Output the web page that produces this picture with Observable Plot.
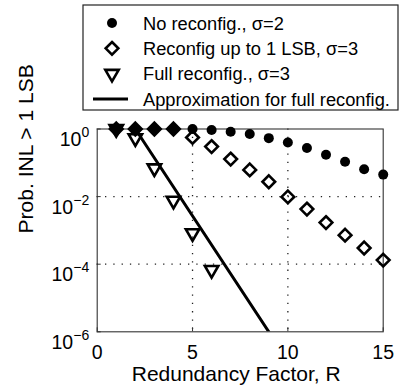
<!DOCTYPE html>
<html><head><meta charset="utf-8">
<script src="https://cdn.jsdelivr.net/npm/d3@7"></script>
<script src="https://cdn.jsdelivr.net/npm/@observablehq/plot@0.6"></script>
<style>
html,body{margin:0;padding:0;background:#fff;}
#chart{position:relative;width:400px;height:392px;}
svg{overflow:visible;}
</style></head><body><div id="chart"></div>
<script>
// ---- data ----
const R = [1,2,3,4,5,6,7,8,9,10,11,12,13,14,15];
const noReconfig   = [1,1,1,1,1,0.933,0.832,0.708,0.537,0.398,0.275,0.174,0.107,0.0646,0.0447];
const reconfig1LSB = [1,1,1,1,0.562,0.302,0.129,0.0617,0.0275,0.00977,0.00427,0.0017,0.000724,0.000302,0.000132];
const fullR = [1,2,3,4,5,6];
const fullReconfig = [1,0.537,0.069,0.0076,0.00083,0.000068];
const approxR = [2,9];
const approxFull = [1,1e-6];
const xTicks = [0,5,10,15];
const xTickLabels = ["0","5","10","15"];
const yTicks = [1e-6,1e-4,1e-2,1];
const yTickExps = ["\u22126","\u22124","\u22122","0"];
const xGrid = [5,10];
const yGrid = [1e-4,1e-2];
const xLabel = "Redundancy Factor, R";
const yLabel = "Prob. INL > 1 LSB";
const legendLabels = ["No reconfig., \u03c3=2","Reconfig up to 1 LSB, \u03c3=3","Full reconfig., \u03c3=3","Approximation for full reconfig."];

const circles = R.map((r,i)=>({R:r, p:noReconfig[i]}));
const diamonds = R.map((r,i)=>({R:r, p:reconfig1LSB[i]}));
const tris = fullR.map((r,i)=>({R:r, p:fullReconfig[i]}));
const approx = approxR.map((r,i)=>({R:r, p:approxFull[i]}));

const FONT = "'Liberation Sans', Arial, Helvetica, sans-serif";
const W = 400, H = 392;
const mL = 96.7, mR = 17.3, mT = 128.5, mB = 60.7;
const rC = 5, rD = 5.7, rT = 6.4, sw = 2.6;

const plot = Plot.plot({
  width: W, height: H,
  marginLeft: mL, marginRight: mR, marginTop: mT, marginBottom: mB,
  style: {fontFamily: FONT, fontSize: "19.5px", background: "white", color: "black", overflow: "visible"},
  x: {domain: [0,15], label: null},
  y: {type: "log", domain: [1e-6,1], label: null},
  marks: [
    Plot.ruleX(xGrid, {x: d=>d, stroke: "#222", strokeWidth: 1.3, strokeDasharray: "1.3,7"}),
    Plot.ruleY(yGrid, {y: d=>d, stroke: "#222", strokeWidth: 1.3, strokeDasharray: "1.3,7"}),
    Plot.frame({stroke: "#333", strokeWidth: 1.1}),
    Plot.axisX({ticks: xTicks, tickSize: -4, tickFormat: ()=>"", stroke:"#333"}),
    Plot.axisY({ticks: yTicks, tickSize: -4, tickFormat: ()=>"", stroke:"#333"}),
    Plot.axisX({ticks: xTicks, tickSize: 0, tickPadding: 13.7, tickFormat: d=>xTickLabels[xTicks.indexOf(d)], fontSize: 19.5}),
    Plot.axisY({ticks: yTicks, tickSize: 0, tickPadding: 8, tickFormat: d=>"10^" + yTickExps[yTicks.indexOf(d)], fontSize: 19.5}),
    Plot.line(approx, {x: "R", y: "p", stroke: "black", strokeWidth: 3, clip: true}),
    Plot.dot(circles, {x: "R", y: "p", symbol: "circle", r: rC, fill: "black", stroke: "none"}),
    Plot.dot(diamonds, {x: "R", y: "p", symbol: "diamond2", r: rD, fill: "none", stroke: "black", strokeWidth: sw}),
    Plot.dot(tris, {x: "R", y: "p", symbol: "triangle2", rotate: 180, r: rT, fill: "none", stroke: "black", strokeWidth: sw}),
    Plot.text([xLabel], {frameAnchor: "bottom", dy: 49, dx: -4, text: d=>d, fontSize: 21, lineAnchor: "bottom"}),
    Plot.text([yLabel], {frameAnchor: "left", dx: -71, dy: 3, rotate: -90, text: d=>d, fontSize: 21})
  ]
});
document.getElementById("chart").appendChild(plot);

// superscript y tick labels: "10" + exponent
d3.select(plot).selectAll("text").each(function(){
  const s = this.textContent;
  if (!s.startsWith("10^")) return;
  const exp = s.slice(3);
  const t = d3.select(this);
  t.text(null).attr("dy", "0.55em");
  t.append("tspan").text("10");
  t.append("tspan").attr("dy", "-0.62em").attr("font-size", "14px").text(exp);
});

// legend
const svg = d3.select(plot);
const lg = svg.append("g").attr("font-family", FONT).attr("font-size", 18.3).attr("text-anchor", "start");
lg.append("rect").attr("x", 83).attr("y", 5).attr("width", 315).attr("height", 105)
  .attr("fill", "white").attr("stroke", "#222").attr("stroke-width", 1.2);
const rowY = [23, 48.3, 73.7, 99];
const mx = 112;
const sym = (type, r) => d3.symbol(type, Math.PI * r * r)();
lg.append("path").attr("d", sym(d3.symbolCircle, rC)).attr("transform", `translate(${mx},${rowY[0]})`).attr("fill", "black");
lg.append("path").attr("d", sym(d3.symbolDiamond2, rD)).attr("transform", `translate(${mx},${rowY[1]})`).attr("fill", "none").attr("stroke", "black").attr("stroke-width", sw);
lg.append("path").attr("d", sym(d3.symbolTriangle2, rT)).attr("transform", `translate(${mx},${rowY[2]}) rotate(180)`).attr("fill", "none").attr("stroke", "black").attr("stroke-width", sw);
lg.append("line").attr("x1", 93).attr("x2", 128).attr("y1", rowY[3]).attr("y2", rowY[3]).attr("stroke", "black").attr("stroke-width", 3);
legendLabels.forEach((s,i)=>{
  lg.append("text").attr("x", 143).attr("y", rowY[i] + 6.5).attr("text-anchor", "start").text(s);
});
</script></body></html>
